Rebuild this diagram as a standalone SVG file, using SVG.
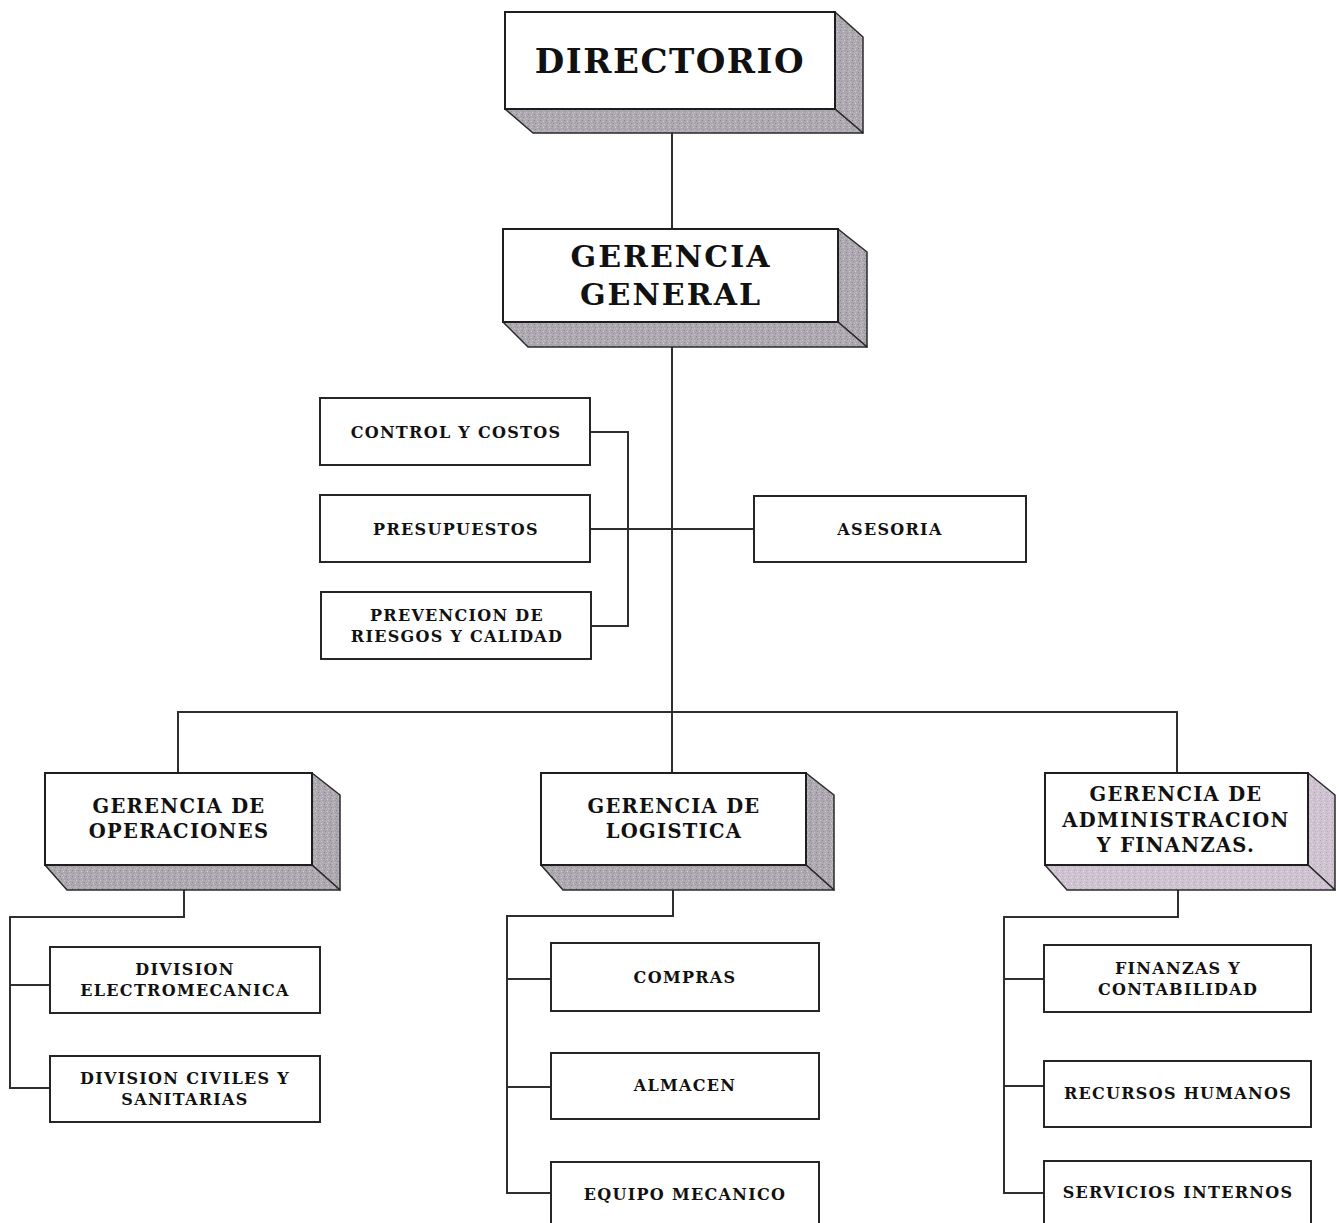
<svg xmlns="http://www.w3.org/2000/svg" width="1339" height="1223" viewBox="0 0 1339 1223">
<style>
.front{fill:#ffffff;stroke:#1e1e1e;stroke-width:2}
.shade{fill:url(#tex);stroke:#2a2a2a;stroke-width:1.5;stroke-linejoin:round}
.shadeB{fill:url(#texB);stroke:#2a2a2a;stroke-width:1.5;stroke-linejoin:round}
.box{fill:#ffffff;stroke:#262626;stroke-width:2}
.conn{fill:none;stroke:#2f2f2f;stroke-width:2}
text{font-family:"DejaVu Serif","Liberation Serif",serif;font-weight:bold;fill:#111;text-anchor:middle}
.big{font-size:34px;letter-spacing:1.5px}
.gg{font-size:30px;letter-spacing:2px}
.mid{font-size:19.5px;letter-spacing:1.3px}
.sm{font-size:16px;letter-spacing:1.3px}
</style>
<defs>
<pattern id="tex" width="6" height="6" patternUnits="userSpaceOnUse">
<rect width="6" height="6" fill="#aea9b1"/>
<rect x="0" y="0" width="1" height="1" fill="#878289"/>
<rect x="3" y="1" width="1" height="1" fill="#d2ced5"/>
<rect x="1" y="3" width="1" height="1" fill="#948e98"/>
<rect x="4" y="4" width="1" height="1" fill="#cbc6ce"/>
<rect x="5" y="2" width="1" height="1" fill="#9d98a2"/>
<rect x="2" y="5" width="1" height="1" fill="#c2bcc4"/>
</pattern>
<pattern id="texB" width="6" height="6" patternUnits="userSpaceOnUse">
<rect width="6" height="6" fill="#d0c3d1"/>
<rect x="0" y="0" width="1" height="1" fill="#aea1b1"/>
<rect x="3" y="1" width="1" height="1" fill="#e6dde7"/>
<rect x="1" y="3" width="1" height="1" fill="#bbaebe"/>
<rect x="4" y="4" width="1" height="1" fill="#e1d8e2"/>
<rect x="5" y="2" width="1" height="1" fill="#c2b6c5"/>
</pattern>
</defs>

<g id="connectors">
<line class="conn" x1="672" y1="133" x2="672" y2="229"/>
<line class="conn" x1="672" y1="347" x2="672" y2="773"/>
<polyline class="conn" points="590,432 628,432 628,626 591,626"/>
<line class="conn" x1="590" y1="529" x2="754" y2="529"/>
<polyline class="conn" points="178,773 178,712 1177,712 1177,773"/>
<polyline class="conn" points="184,890 184,917 10,917 10,1088 50,1088"/>
<line class="conn" x1="10" y1="985" x2="50" y2="985"/>
<polyline class="conn" points="673,890 673,916 507,916 507,1193 551,1193"/>
<line class="conn" x1="507" y1="979" x2="551" y2="979"/>
<line class="conn" x1="507" y1="1087" x2="551" y2="1087"/>
<polyline class="conn" points="1178,890 1178,917 1004,917 1004,1193 1044,1193"/>
<line class="conn" x1="1004" y1="979" x2="1044" y2="979"/>
<line class="conn" x1="1004" y1="1086" x2="1044" y2="1086"/>
</g>

<g id="directorio">
<polygon class="shade" points="835,12 863,37 863,133 835,109"/>
<polygon class="shade" points="505,109 835,109 863,133 533,133"/>
<rect class="front" x="505" y="12" width="330" height="97"/>
<text class="big" x="670" y="73">DIRECTORIO</text>
</g>

<g id="gerencia-general">
<polygon class="shade" points="838,229 867,252 867,347 838,322"/>
<polygon class="shade" points="503,322 838,322 867,347 528,347"/>
<rect class="front" x="503" y="229" width="335" height="93"/>
<text class="gg" x="671" y="267">GERENCIA</text>
<text class="gg" x="671" y="305">GENERAL</text>
</g>

<g id="control-costos">
<rect class="box" x="320" y="398" width="270" height="67"/>
<text class="sm" x="456" y="438">CONTROL Y COSTOS</text>
</g>
<g id="presupuestos">
<rect class="box" x="320" y="495" width="270" height="67"/>
<text class="sm" x="456" y="535">PRESUPUESTOS</text>
</g>
<g id="prevencion">
<rect class="box" x="321" y="592" width="270" height="67"/>
<text class="sm" x="457" y="621">PREVENCION DE</text>
<text class="sm" x="457" y="642">RIESGOS Y CALIDAD</text>
</g>
<g id="asesoria">
<rect class="box" x="754" y="496" width="272" height="66"/>
<text class="sm" x="890" y="535">ASESORIA</text>
</g>

<g id="gerencia-operaciones">
<polygon class="shade" points="312,773 340,795 340,890 312,865"/>
<polygon class="shade" points="45,865 312,865 340,890 67,890"/>
<rect class="front" x="45" y="773" width="267" height="92"/>
<text class="mid" x="179" y="813">GERENCIA DE</text>
<text class="mid" x="179" y="838">OPERACIONES</text>
</g>

<g id="gerencia-logistica">
<polygon class="shade" points="806,773 834,795 834,890 806,865"/>
<polygon class="shade" points="541,865 806,865 834,890 563,890"/>
<rect class="front" x="541" y="773" width="265" height="92"/>
<text class="mid" x="674" y="813">GERENCIA DE</text>
<text class="mid" x="674" y="838">LOGISTICA</text>
</g>

<g id="gerencia-administracion">
<polygon class="shadeB" points="1308,773 1335,795 1335,890 1308,865"/>
<polygon class="shadeB" points="1045,865 1308,865 1335,890 1067,890"/>
<rect class="front" x="1045" y="773" width="263" height="92"/>
<text class="mid" x="1176" y="801">GERENCIA DE</text>
<text class="mid" x="1176" y="827">ADMINISTRACION</text>
<text class="mid" x="1176" y="852">Y FINANZAS.</text>
</g>

<g id="division-electromecanica">
<rect class="box" x="50" y="947" width="270" height="66"/>
<text class="sm" x="185" y="975">DIVISION</text>
<text class="sm" x="185" y="996">ELECTROMECANICA</text>
</g>
<g id="division-civiles">
<rect class="box" x="50" y="1056" width="270" height="66"/>
<text class="sm" x="185" y="1084">DIVISION CIVILES Y</text>
<text class="sm" x="185" y="1105">SANITARIAS</text>
</g>

<g id="compras">
<rect class="box" x="551" y="943" width="268" height="68"/>
<text class="sm" x="685" y="983">COMPRAS</text>
</g>
<g id="almacen">
<rect class="box" x="551" y="1053" width="268" height="66"/>
<text class="sm" x="685" y="1091">ALMACEN</text>
</g>
<g id="equipo-mecanico">
<rect class="box" x="551" y="1162" width="268" height="70"/>
<text class="sm" x="685" y="1200">EQUIPO MECANICO</text>
</g>

<g id="finanzas-contabilidad">
<rect class="box" x="1044" y="945" width="267" height="67"/>
<text class="sm" x="1178" y="974">FINANZAS Y</text>
<text class="sm" x="1178" y="995">CONTABILIDAD</text>
</g>
<g id="recursos-humanos">
<rect class="box" x="1044" y="1061" width="267" height="66"/>
<text class="sm" x="1178" y="1099">RECURSOS HUMANOS</text>
</g>
<g id="servicios-internos">
<rect class="box" x="1044" y="1161" width="267" height="70"/>
<text class="sm" x="1178" y="1198">SERVICIOS INTERNOS</text>
</g>
</svg>
